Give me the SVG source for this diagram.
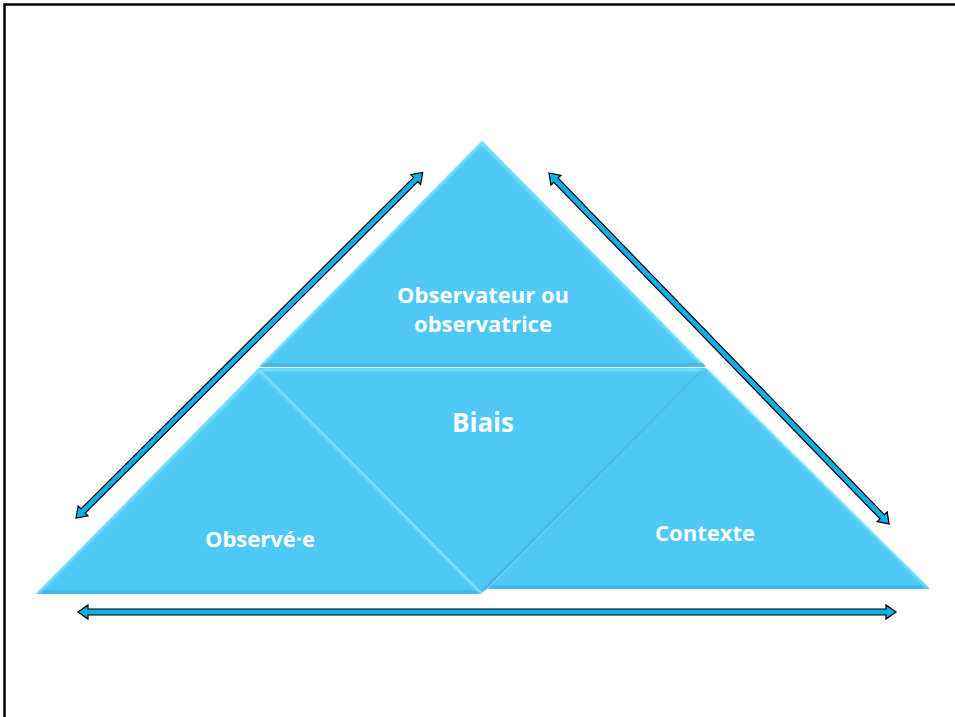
<svg xmlns="http://www.w3.org/2000/svg" width="955" height="717" viewBox="0 0 955 717">
<style>
.tri{fill:#4fc8f6;}
.hi{fill:none;stroke:#8ee6ff;stroke-width:2;stroke-linejoin:round;}
.lo{fill:none;stroke:#3aa9dc;stroke-width:2;}
.arr{fill:#12aee8;stroke:#000;stroke-width:1.2;stroke-linejoin:miter;}
.lbl{font-family:"Open Sans","Liberation Sans",sans-serif;font-weight:bold;fill:#fff;text-anchor:middle;}
</style>
<defs>
<filter id="soft" x="-5%" y="-5%" width="110%" height="110%"><feGaussianBlur stdDeviation="0.8"/></filter>
</defs>
<rect x="0" y="0" width="955" height="717" fill="#fff"/>
<path d="M4.5,717 V4.5 H955" fill="none" stroke="#000" stroke-width="2.5"/>

<g id="top">
<polygon class="tri" points="482,141 706,367 259,367"/>
<g filter="url(#soft)">
<polyline class="hi" points="262,365 482,143 704,366"/>
<line class="lo" x1="262" y1="365" x2="704" y2="365"/>
</g>
<text class="lbl" x="483" y="303" font-size="22">Observateur ou</text>
<text class="lbl" x="483" y="332" font-size="22">observatrice</text>
</g>

<g id="left">
<polygon class="tri" points="259,368 482,594 36,594"/>
<g filter="url(#soft)">
<polyline class="hi" points="38,593 259,370 480,592"/>
<line class="lo" x1="40" y1="592" x2="478" y2="592"/>
</g>
<text class="lbl" x="260" y="547" font-size="22">Observé·e</text>
</g>

<g id="middle">
<polygon class="tri" points="259,368 706,368 482,593"/>
<g filter="url(#soft)">
<line class="hi" x1="262" y1="370" x2="703" y2="370"/>
<line class="lo" x1="703" y1="371" x2="484" y2="590"/>
</g>
<text class="lbl" x="483" y="432" font-size="26">Biais</text>
</g>

<g id="right">
<polygon class="tri" points="706,368 930,589 487,589"/>
<g filter="url(#soft)">
<polyline class="hi" points="708,370 927,587"/>
<line class="lo" x1="490" y1="587" x2="925" y2="587"/>
</g>
<text class="lbl" x="705" y="541" font-size="22">Contexte</text>
</g>

<g id="connectors">
<path class="arr" transform="translate(76,518) rotate(-44.9)" d="M0,0 L10,-7 L10,-3 L479.5,-3 L479.5,-7 L489.5,0 L479.5,7 L479.5,3 L10,3 L10,7 Z"/>
<path class="arr" transform="translate(549,173) rotate(45.9)" d="M0,0 L10,-7 L10,-3 L478.7,-3 L478.7,-7 L488.7,0 L478.7,7 L478.7,3 L10,3 L10,7 Z"/>
<path class="arr" transform="translate(78,612)" d="M0,0 L10,-7 L10,-3 L808,-3 L808,-7 L818,0 L808,7 L808,3 L10,3 L10,7 Z"/>
</g>
</svg>
